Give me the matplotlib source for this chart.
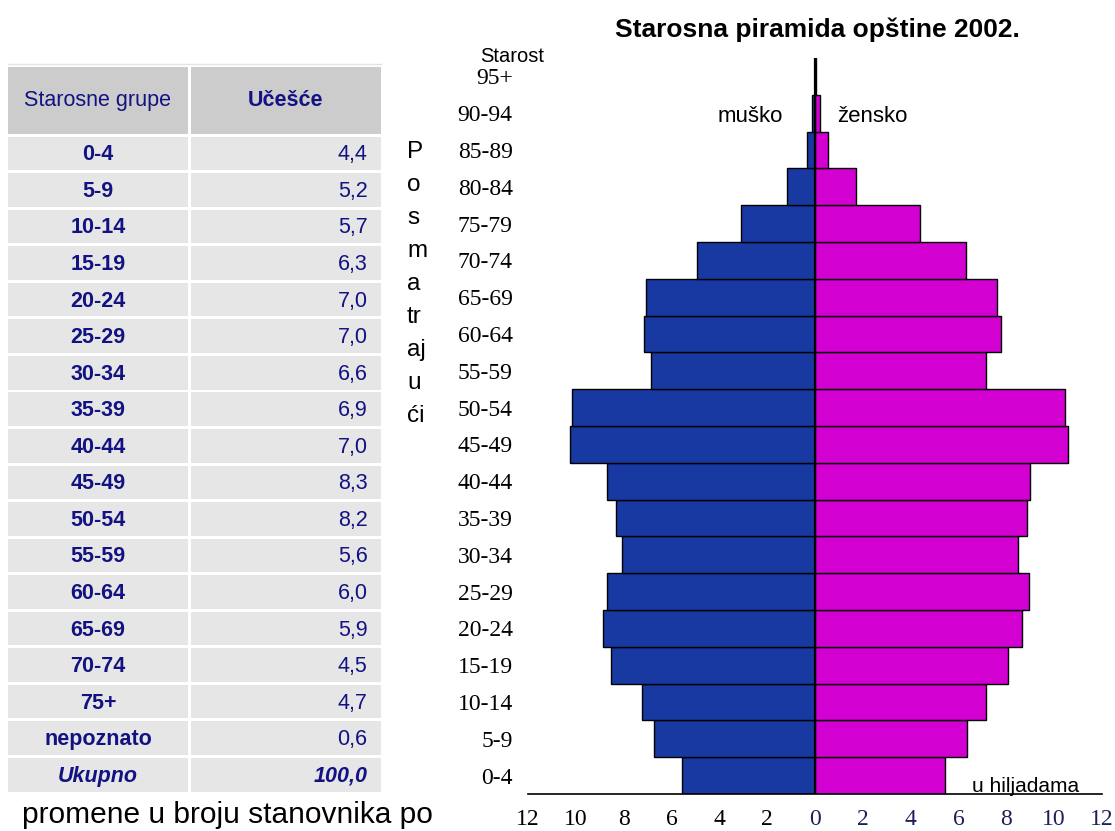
import matplotlib.pyplot as plt
from matplotlib.patches import Rectangle

# podaci - piramida (u hiljadama)
starost = ['0-4', '5-9', '10-14', '15-19', '20-24', '25-29', '30-34', '35-39',
           '40-44', '45-49', '50-54', '55-59', '60-64', '65-69', '70-74',
           '75-79', '80-84', '85-89', '90-94', '95+']
musko = [5.58, 6.72, 7.24, 8.51, 8.85, 8.68, 8.09, 8.33, 8.69, 10.23,
         10.14, 6.85, 7.17, 7.08, 4.95, 3.11, 1.16, 0.32, 0.11, 0.02]
zensko = [5.42, 6.36, 7.15, 8.09, 8.64, 8.94, 8.49, 8.88, 8.98, 10.58,
          10.46, 7.17, 7.78, 7.61, 6.30, 4.38, 1.72, 0.53, 0.19, 0.03]
x_ticks = list(range(-12, 13, 2))

# podaci - tabela
grupe = ['0-4', '5-9', '10-14', '15-19', '20-24', '25-29', '30-34', '35-39',
         '40-44', '45-49', '50-54', '55-59', '60-64', '65-69', '70-74',
         '75+', 'nepoznato', 'Ukupno']
ucesce = [4.4, 5.2, 5.7, 6.3, 7.0, 7.0, 6.6, 6.9, 7.0, 8.3, 8.2, 5.6, 6.0,
          5.9, 4.5, 4.7, 0.6, 100.0]
zaglavlje = ['Starosne grupe', 'Učešće']
vertikalno = ['P', 'o', 's', 'm', 'a', 'tr', 'aj', 'u', 'ći']

W, H = 1115, 831
SANS = 'Liberation Sans'
SERIF = 'Liberation Serif'
NAVY = '#121282'
PLAVA = '#1739A1'
LJUB = '#D200D0'
TFS = 15.5  # font tabele

fig = plt.figure(figsize=(W / 100, H / 100), dpi=100)


def px(x, y):
    return x / W, 1 - y / H


# ---- piramida ----
ax = fig.add_axes([528 / W, (H - 794) / H, 574 / W, 736 / H])
y = list(range(len(starost)))
ax.barh(y, [-m for m in musko], height=1, color=PLAVA, edgecolor='black', linewidth=1)
ax.barh(y, zensko, height=1, color=LJUB, edgecolor='black', linewidth=1)
ax.axvline(0, color='black', lw=1.6)
ax.set_xlim(-12, 12)
ax.set_ylim(-0.5, len(starost) - 0.5)
for s in ['left', 'right', 'top']:
    ax.spines[s].set_visible(False)
ax.spines['bottom'].set_linewidth(1.2)
ax.set_yticks(y)
ax.set_yticklabels(starost, family=SERIF, fontsize=17)
ax.set_xticks(x_ticks)
ax.set_xticklabels([str(abs(t)) for t in x_ticks], family=SERIF, fontsize=17)
for t, lab in zip(x_ticks, ax.get_xticklabels()):
    lab.set_color('black' if t < 0 else '#1E1E5A')
ax.tick_params(axis='y', length=0, pad=11)
ax.tick_params(axis='x', length=0, pad=11)

ax.text(-1.35, 17.9, 'muško', family=SANS, fontsize=16, ha='right', va='center')
ax.text(0.92, 17.9, 'žensko', family=SANS, fontsize=16, ha='left', va='center')

fig.text(*px(512, 57), 'Starost', family=SANS, fontsize=14.5, ha='center', va='center')
fig.text(*px(972, 786), 'u hiljadama', family=SANS, fontsize=15, ha='left', va='center')
fig.text(*px(817, 30), 'Starosna piramida opštine 2002.', family=SANS, fontsize=19,
         fontweight='bold', ha='center', va='center')
for i, s in enumerate(vertikalno):
    fig.text(*px(407, 152 + 33 * i), s, family=SANS, fontsize=17.5, ha='left', va='center')

fig.text(*px(22, 815), 'promene u broju stanovnika po', family=SANS, fontsize=21.5,
         ha='left', va='center')

# ---- tabela ----
col_x = [0, 182.5]
col_w = [180, 190.5]
head_h = 1.841
row0 = 1.915
row_h = 0.92
tb = fig.add_axes([8 / W, (H - 791.6) / H, 373 / W, 725 / H])
tb.set_xlim(0, 373)
tb.set_ylim(row0 + len(grupe) - 1 + row_h, 0)
tb.axis('off')
tb.axhline(-0.07, color='#e4e4e4', lw=1, clip_on=False)
for c in range(2):
    tb.add_patch(Rectangle((col_x[c], 0), col_w[c], head_h, color='#cccccc', lw=0))
tb.text(col_x[0] + col_w[0] / 2, head_h / 2, zaglavlje[0], family=SANS, fontsize=TFS,
        color=NAVY, ha='center', va='center')
tb.text(col_x[1] + col_w[1] / 2, head_h / 2, zaglavlje[1], family=SANS, fontsize=TFS,
        color=NAVY, fontweight='bold', ha='center', va='center')
for i, (g, v) in enumerate(zip(grupe, ucesce)):
    top = row0 + i
    yc = top + row_h / 2 + 0.04
    for c in range(2):
        tb.add_patch(Rectangle((col_x[c], top), col_w[c], row_h, color='#e6e6e6', lw=0))
    zadnji = g == 'Ukupno'
    stil = 'italic' if zadnji else 'normal'
    tb.text(col_x[0] + col_w[0] / 2, yc, g, family=SANS, fontsize=TFS,
            color=NAVY, fontweight='bold', style=stil, ha='center', va='center')
    tb.text(col_x[1] + col_w[1] - 13.5, yc, f'{v:.1f}'.replace('.', ','),
            family=SANS, fontsize=TFS, color=NAVY, style=stil,
            fontweight='bold' if zadnji else 'normal', ha='right', va='center')

fig.savefig('out.png', dpi=100)
